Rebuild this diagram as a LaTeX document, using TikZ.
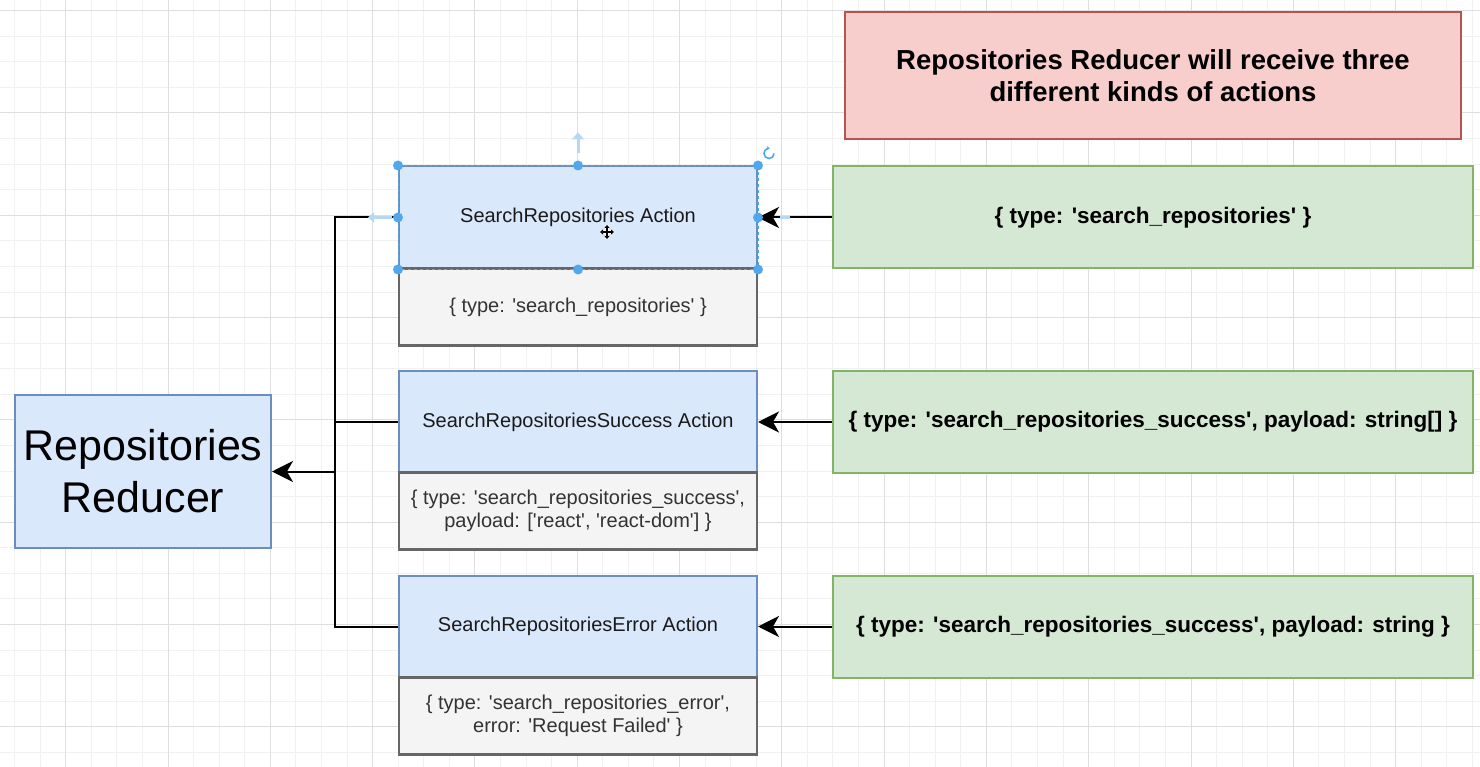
\documentclass[tikz,border=0pt]{standalone}
\usepackage{fontspec}
\setmainfont{Liberation Sans}[Ligatures=TeXOff]
\usetikzlibrary{arrows.meta,calc}
\definecolor{blueF}{HTML}{DAE8FC}
\definecolor{blueD}{HTML}{6C8EBF}
\definecolor{grayF}{HTML}{F4F4F4}
\definecolor{grayD}{HTML}{666666}
\definecolor{grayT}{HTML}{333333}
\definecolor{greenF}{HTML}{D5E8D4}
\definecolor{greenD}{HTML}{82B366}
\definecolor{redF}{HTML}{F8CECC}
\definecolor{redD}{HTML}{B85450}
\definecolor{ink}{HTML}{1A1A1A}
\definecolor{handle}{HTML}{4FA8EE}
\definecolor{hint}{HTML}{B5D8F3}
\definecolor{gridminor}{HTML}{F1F1F1}
\definecolor{gridmajor}{HTML}{DEDEDE}
\begin{document}
\begin{tikzpicture}[x=1pt,y=-1pt,
  box/.style={rectangle, draw, line width=2pt, inner sep=0pt, align=center},
  bluebox/.style={box, fill=blueF, draw=blueD, minimum width=358pt, minimum height=102pt, text=ink, font=\fontsize{20}{24}\selectfont},
  graybox/.style={box, fill=grayF, draw=grayD, line width=2.4pt, minimum width=358pt, minimum height=77pt, text=grayT, font=\fontsize{20}{23.5}\selectfont},
  greenbox/.style={box, fill=greenF, draw=greenD, minimum width=640pt, minimum height=102pt, text=black, font=\bfseries\fontsize{22.5}{27}\selectfont},
  redbox/.style={box, fill=redF, draw=redD, minimum width=616pt, minimum height=127pt, text=black, font=\bfseries\fontsize{27.5}{32}\selectfont},
  reducerbox/.style={box, fill=blueF, draw=blueD, minimum width=256pt, minimum height=153pt, text=black, font=\fontsize{43}{52}\selectfont},
  conn/.style={line width=2pt, draw=black},
  arr/.style={conn, -{Stealth[length=21pt,width=21pt,inset=6pt]}},
  dot/.style={circle, fill=handle, inner sep=0pt, minimum size=10pt}
]
\useasboundingbox (0,0) rectangle (1480,767);
\fill[white] (0,0) rectangle (1480,767);
% grid
\foreach \i in {0,...,58} {
  \draw[gridminor, line width=1pt] ({-11.025+25.575*\i},0) -- ({-11.025+25.575*\i},767);
}
\foreach \j in {0,...,31} {
  \draw[gridminor, line width=1pt] (0,{-14.875+25.575*\j}) -- (1480,{-14.875+25.575*\j});
}
\foreach \i in {0,...,14} {
  \draw[gridmajor, line width=1pt] ({65.7+102.3*\i},0) -- ({65.7+102.3*\i},767);
}
\foreach \j in {0,...,7} {
  \draw[gridmajor, line width=1pt] (0,{10.7+102.3*\j}) -- (1480,{10.7+102.3*\j});
}

% title box
\node[redbox] (note) at (1153,75.3) {Repositories Reducer will receive three\\different kinds of actions};

% reducer
\node[reducerbox] (reducer) at (143,471.5) {Repositories\\Reducer};

% action boxes
\node[bluebox] (a1) at (578,217.5) {SearchRepositories Action};
\node[graybox] (p1) at (578,307) {\{ type: 'search\_repositories' \}};
\node[bluebox] (a2) at (578,422) {SearchRepositoriesSuccess Action};
\node[graybox] (p2) at (578,511) {\{ type: 'search\_repositories\_success',\\payload: ['react', 'react-dom'] \}};
\node[bluebox] (a3) at (578,626.5) {SearchRepositoriesError Action};
\node[graybox] (p3) at (578,716) {\{ type: 'search\_repositories\_error',\\error: 'Request Failed' \}};

% green boxes
\node[greenbox] (g1) at (1153,217.5) {\{ type: 'search\_repositories' \}};
\node[greenbox] (g2) at (1153,422) {\{ type: 'search\_repositories\_success', payload: string[] \}};
\node[greenbox] (g3) at (1153,626.5) {\{ type: 'search\_repositories\_success', payload: string \}};

% trunk
\coordinate (t1) at (334.5,217.5);
\coordinate (t2) at (334.5,422);
\coordinate (t3) at (334.5,626.5);
\coordinate (tm) at (334.5,471.5);
\draw[conn] (a1.west) -- (t1) -- (t3) -- (a3.west);
\draw[conn] (a2.west) -- (t2);
\draw[arr] (tm) -- (reducer.east);

% arrows from green boxes
\draw[arr] (g1.west) -- (a1.east);
\draw[arr] (g2.west) -- (a2.east);
\draw[arr] (g3.west) -- (a3.east);

% selection decorations
\draw[handle, line width=1pt, dashed] (a1.north west) rectangle (a1.south east);
\draw[hint, line width=2.5pt, -{Triangle[length=6pt,width=10pt]}] ([xshift=-6pt]a1.west) -- ([xshift=-30pt]a1.west);
\draw[hint, line width=2.5pt] ([xshift=22pt]a1.east) -- ([xshift=32pt]a1.east);
\draw[hint, line width=3pt, -{Triangle[length=7pt,width=12pt]}] ([yshift=12pt]a1.north) -- ([yshift=33pt]a1.north);
\foreach \a in {north west,north,north east,west,east,south west,south,south east} {
  \node[dot] at (a1.\a) {};
}
\draw[handle, line width=1.6pt, -{Stealth[length=3.5pt,width=4pt]}] ($(a1.north east)+(16,-12)$) arc[start angle=0, end angle=-280, radius=5pt];
% move cursor
\coordinate (cur) at (607,232);
\draw[white, line width=3.5pt] ($(cur)+(-7,0)$) -- ($(cur)+(7,0)$) ($(cur)+(0,-7)$) -- ($(cur)+(0,7)$);
\draw[black, line width=1.3pt, {Triangle[length=3pt,width=5pt]}-{Triangle[length=3pt,width=5pt]}] ($(cur)+(-7,0)$) -- ($(cur)+(7,0)$);
\draw[black, line width=1.3pt, {Triangle[length=3pt,width=5pt]}-{Triangle[length=3pt,width=5pt]}] ($(cur)+(0,-7)$) -- ($(cur)+(0,7)$);
\end{tikzpicture}
\end{document}
